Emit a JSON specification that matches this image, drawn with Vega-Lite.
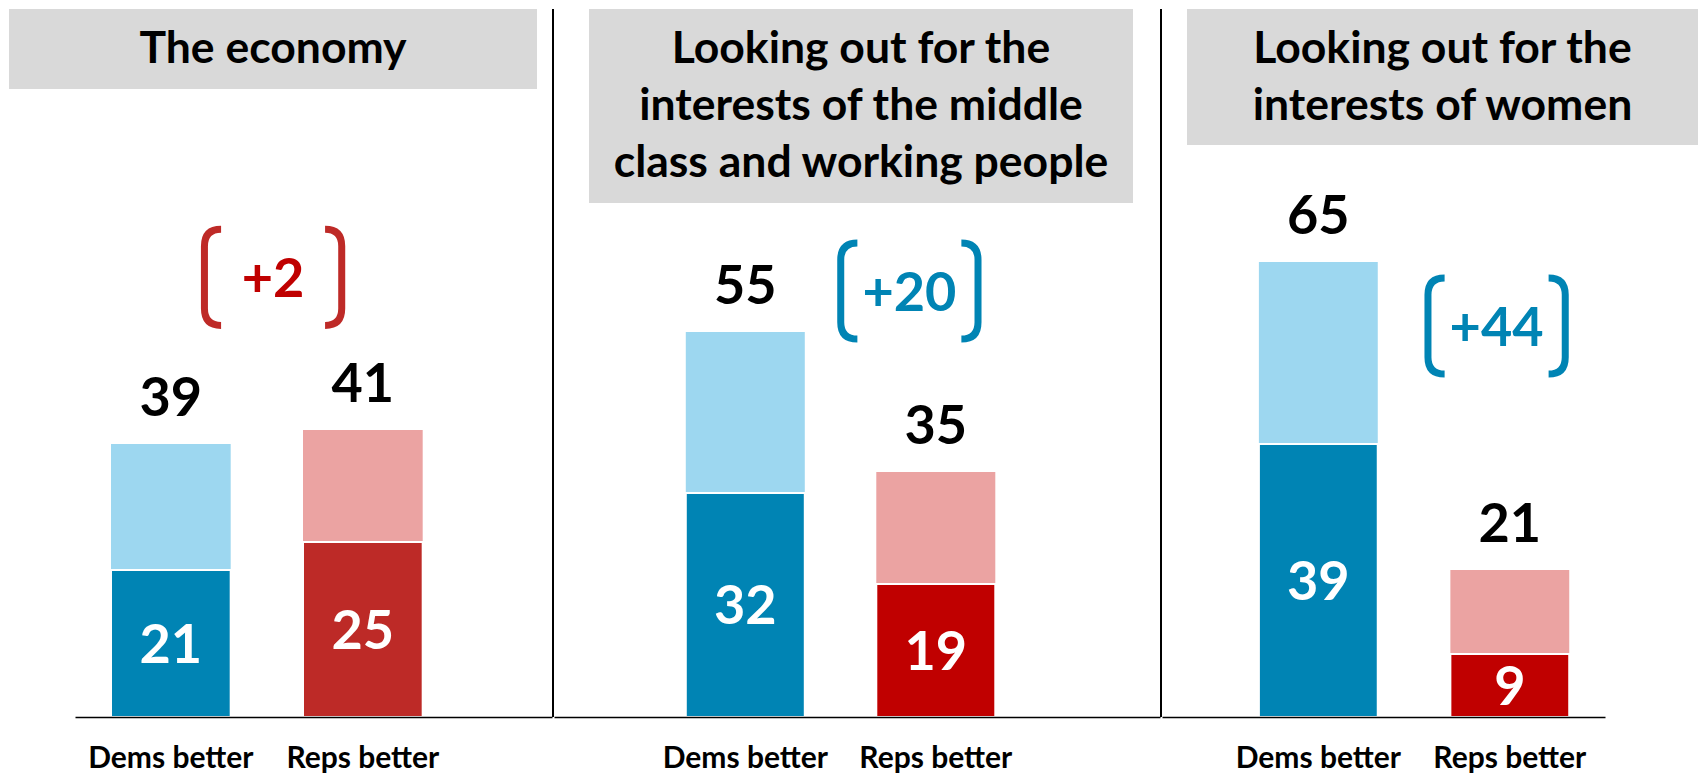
{
  "$schema": "https://vega.github.io/schema/vega-lite/v6.json",
  "background": "white",
  "padding": {"left": 9, "top": 8, "right": 0, "bottom": 0},
  "config": {"view": {"stroke": null}, "font": "Lato"},
  "datasets": {
    "bars": [
      {"topic": "economy", "party": "Dems better", "total": 39, "strong": 21},
      {"topic": "economy", "party": "Reps better", "total": 41, "strong": 25},
      {"topic": "middle", "party": "Dems better", "total": 55, "strong": 32},
      {"topic": "middle", "party": "Reps better", "total": 35, "strong": 19},
      {"topic": "women", "party": "Dems better", "total": 65, "strong": 39},
      {"topic": "women", "party": "Reps better", "total": 21, "strong": 9}
    ],
    "titles": [
      {"topic": "economy", "title": "The economy"},
      {"topic": "middle", "title": "Looking out for the\ninterests of the middle\nclass and working people"},
      {"topic": "women", "title": "Looking out for the\ninterests of women"}
    ],
    "margins": [
      {"topic": "economy", "label": "+2", "leader": "Reps"},
      {"topic": "middle", "label": "+20", "leader": "Dems"},
      {"topic": "women", "label": "+44", "leader": "Dems"}
    ]
  },
  "spacing": 0,
  "resolve": {"scale": {"color": "independent", "fill": "independent"}},
  "hconcat": [
    {
      "spacing": 12,
      "vconcat": [
        {
          "width": 528, "height": 80,
          "view": {"fill": "#D9D9D9", "stroke": null},
          "data": {"name": "titles"},
          "transform": [{"filter": "datum.topic === 'economy'"}],
          "mark": {"type": "text", "font": "Lato", "fontWeight": "bold", "fontSize": 44.5, "lineHeight": 57, "lineBreak": "\n", "baseline": "middle", "align": "center", "dy": 0.6, "color": "black"},
          "encoding": {"text": {"field": "title", "type": "nominal"}}
        },
        {
          "spacing": 0,
          "hconcat": [
            {
              "width": 66, "height": 1,
              "data": {"values": [{"gap": "indent"}]},
              "mark": {"type": "rule", "strokeOpacity": 0, "strokeWidth": 1},
              "encoding": {"y": {"datum": 0, "type": "quantitative", "scale": {"domain": [0, 1]}, "axis": null}}
            },
            {
              "width": 477, "height": 616,
              "data": {"name": "bars"},
              "transform": [{"filter": "datum.topic === 'economy'"}],
              "resolve": {"scale": {"y": "independent"}},
              "layer": [
                {
                  "layer": [
                    {
                      "mark": {"type": "bar"},
                      "encoding": {
                        "x": {"field": "party", "type": "nominal", "scale": {"domain": ["Dems better", "Reps better"], "paddingInner": 0.3766, "paddingOuter": 0.4305, "align": 0.2178},
                          "axis": {"title": null, "domainColor": "black", "domainWidth": 1.5, "ticks": false, "tickSize": 0, "labelAngle": 0, "labelFont": "Lato", "labelFontWeight": "bold", "labelFontSize": 30, "labelColor": "black", "labelPadding": 26, "grid": false, "zindex": 1}},
                        "y": {"field": "total", "type": "quantitative", "scale": {"domain": [0, 88], "nice": false, "zero": true}, "axis": null},
                        "color": {"field": "party", "type": "nominal", "scale": {"domain": ["Dems better", "Reps better"], "range": ["#9DD7F0", "#EBA3A2"]}, "legend": null}
                      }
                    },
                    {
                      "mark": {"type": "bar", "stroke": "white", "strokeWidth": 2},
                      "encoding": {
                        "x": {"field": "party", "type": "nominal"},
                        "y": {"field": "strong", "type": "quantitative"},
                        "fill": {"field": "party", "type": "nominal", "scale": {"domain": ["Dems better", "Reps better"], "range": ["#0084B4", "#BD2A27"]}, "legend": null}
                      }
                    },
                    {
                      "mark": {"type": "text", "font": "Lato", "fontWeight": "bold", "fontSize": 54, "baseline": "alphabetic", "dy": -28, "color": "black"},
                      "encoding": {
                        "x": {"field": "party", "type": "nominal"},
                        "y": {"field": "total", "type": "quantitative"},
                        "text": {"field": "total", "type": "quantitative"}
                      }
                    },
                    {
                      "data": {"name": "margins"},
                      "transform": [{"filter": "datum.topic === 'economy'"}],
                      "mark": {"type": "point", "shape": "M -1.0 -0.925 Q -1.32 -0.925 -1.32 -0.6 L -1.32 0.6 Q -1.32 0.925 -1.0 0.925 M 1.0 -0.925 Q 1.32 -0.925 1.32 -0.6 L 1.32 0.6 Q 1.32 0.925 1.0 0.925", "size": 10816, "filled": false, "color": "#BE2A27", "strokeWidth": 7, "strokeCap": "butt", "opacity": 1},
                      "encoding": {
                        "x": {"datum": "Reps better", "type": "nominal", "bandPosition": -0.25},
                        "y": {"datum": 62.8, "type": "quantitative"}
                      }
                    },
                    {
                      "data": {"name": "margins"},
                      "transform": [{"filter": "datum.topic === 'economy'"}],
                      "mark": {"type": "text", "font": "Lato", "fontWeight": "bold", "fontSize": 54, "baseline": "middle", "dy": 4, "color": "#C00000"},
                      "encoding": {
                        "x": {"datum": "Reps better", "type": "nominal", "bandPosition": -0.25},
                        "y": {"datum": 62.8, "type": "quantitative"},
                        "text": {"field": "label", "type": "nominal"}
                      }
                    }
                  ]
                },
                {
                  "mark": {"type": "text", "font": "Lato", "fontWeight": "bold", "fontSize": 54, "baseline": "middle", "dy": 3, "color": "white"},
                  "encoding": {
                    "x": {"field": "party", "type": "nominal"},
                    "y": {"field": "strong", "type": "quantitative", "scale": {"domain": [0, 176], "nice": false}, "axis": null},
                    "text": {"field": "strong", "type": "quantitative"}
                  }
                }
              ]
            }
          ]
        }
      ]
    },
    {
      "width": 1, "height": 708,
      "data": {"values": [{"divider": "panel"}]},
      "mark": {"type": "rule", "color": "black", "strokeWidth": 2},
      "encoding": {"x": {"datum": 0, "type": "quantitative", "scale": {"domain": [0, 1]}, "axis": null}}
    },
    {
      "spacing": 10,
      "vconcat": [
        {
          "spacing": 0,
          "hconcat": [
            {
              "width": 35, "height": 1,
              "data": {"values": [{"gap": "indent"}]},
              "mark": {"type": "rule", "strokeOpacity": 0, "strokeWidth": 1},
              "encoding": {"y": {"datum": 0, "type": "quantitative", "scale": {"domain": [0, 1]}, "axis": null}}
            },
            {
              "width": 544, "height": 194,
              "view": {"fill": "#D9D9D9", "stroke": null},
              "data": {"name": "titles"},
              "transform": [{"filter": "datum.topic === 'middle'"}],
              "mark": {"type": "text", "font": "Lato", "fontWeight": "bold", "fontSize": 44.5, "lineHeight": 57, "lineBreak": "\n", "baseline": "middle", "align": "center", "dy": -56.4, "color": "black"},
              "encoding": {"text": {"field": "title", "type": "nominal"}}
            }
          ]
        },
        {
          "width": 606, "height": 504,
          "data": {"name": "bars"},
          "transform": [{"filter": "datum.topic === 'middle'"}],
          "resolve": {"scale": {"y": "independent"}},
          "layer": [
            {
              "layer": [
                {
                  "mark": {"type": "bar"},
                  "encoding": {
                    "x": {"field": "party", "type": "nominal", "scale": {"domain": ["Dems better", "Reps better"], "paddingInner": 0.3753, "paddingOuter": 0.7782, "align": 0.4445},
                      "axis": {"title": null, "domainColor": "black", "domainWidth": 1.5, "ticks": false, "tickSize": 0, "labelAngle": 0, "labelFont": "Lato", "labelFontWeight": "bold", "labelFontSize": 30, "labelColor": "black", "labelPadding": 26, "grid": false, "zindex": 1}},
                    "y": {"field": "total", "type": "quantitative", "scale": {"domain": [0, 72], "nice": false, "zero": true}, "axis": null},
                    "color": {"field": "party", "type": "nominal", "scale": {"domain": ["Dems better", "Reps better"], "range": ["#9DD7F0", "#EBA3A2"]}, "legend": null}
                  }
                },
                {
                  "mark": {"type": "bar", "stroke": "white", "strokeWidth": 2},
                  "encoding": {
                    "x": {"field": "party", "type": "nominal"},
                    "y": {"field": "strong", "type": "quantitative"},
                    "fill": {"field": "party", "type": "nominal", "scale": {"domain": ["Dems better", "Reps better"], "range": ["#0084B4", "#C00000"]}, "legend": null}
                  }
                },
                {
                  "mark": {"type": "text", "font": "Lato", "fontWeight": "bold", "fontSize": 54, "baseline": "alphabetic", "dy": -28, "color": "black"},
                  "encoding": {
                    "x": {"field": "party", "type": "nominal"},
                    "y": {"field": "total", "type": "quantitative"},
                    "text": {"field": "total", "type": "quantitative"}
                  }
                },
                {
                  "data": {"name": "margins"},
                  "transform": [{"filter": "datum.topic === 'middle'"}],
                  "mark": {"type": "point", "shape": "M -1.0 -0.925 Q -1.32 -0.925 -1.32 -0.6 L -1.32 0.6 Q -1.32 0.925 -1.0 0.925 M 1.0 -0.925 Q 1.32 -0.925 1.32 -0.6 L 1.32 0.6 Q 1.32 0.925 1.0 0.925", "size": 10816, "filled": false, "color": "#0084B4", "strokeWidth": 7, "strokeCap": "butt", "opacity": 1},
                  "encoding": {
                    "x": {"datum": "Reps better", "type": "nominal", "bandPosition": 0.278},
                    "y": {"datum": 60.86, "type": "quantitative"}
                  }
                },
                {
                  "data": {"name": "margins"},
                  "transform": [{"filter": "datum.topic === 'middle'"}],
                  "mark": {"type": "text", "font": "Lato", "fontWeight": "bold", "fontSize": 54, "baseline": "middle", "dy": 4, "color": "#0084B4"},
                  "encoding": {
                    "x": {"datum": "Reps better", "type": "nominal", "bandPosition": 0.278},
                    "y": {"datum": 60.86, "type": "quantitative"},
                    "text": {"field": "label", "type": "nominal"}
                  }
                }
              ]
            },
            {
              "mark": {"type": "text", "font": "Lato", "fontWeight": "bold", "fontSize": 54, "baseline": "middle", "dy": 3, "color": "white"},
              "encoding": {
                "x": {"field": "party", "type": "nominal"},
                "y": {"field": "strong", "type": "quantitative", "scale": {"domain": [0, 144], "nice": false}, "axis": null},
                "text": {"field": "strong", "type": "quantitative"}
              }
            }
          ]
        }
      ]
    },
    {
      "width": 1, "height": 708,
      "data": {"values": [{"divider": "panel"}]},
      "mark": {"type": "rule", "color": "black", "strokeWidth": 2},
      "encoding": {"x": {"datum": 0, "type": "quantitative", "scale": {"domain": [0, 1]}, "axis": null}}
    },
    {
      "spacing": 12,
      "vconcat": [
        {
          "spacing": 0,
          "hconcat": [
            {
              "width": 25, "height": 1,
              "data": {"values": [{"gap": "indent"}]},
              "mark": {"type": "rule", "strokeOpacity": 0, "strokeWidth": 1},
              "encoding": {"y": {"datum": 0, "type": "quantitative", "scale": {"domain": [0, 1]}, "axis": null}}
            },
            {
              "width": 511, "height": 136,
              "view": {"fill": "#D9D9D9", "stroke": null},
              "data": {"name": "titles"},
              "transform": [{"filter": "datum.topic === 'women'"}],
              "mark": {"type": "text", "font": "Lato", "fontWeight": "bold", "fontSize": 44.5, "lineHeight": 57, "lineBreak": "\n", "baseline": "middle", "align": "center", "dy": -27.4, "color": "black"},
              "encoding": {"text": {"field": "title", "type": "nominal"}}
            }
          ]
        },
        {
          "width": 443, "height": 560,
          "data": {"name": "bars"},
          "transform": [{"filter": "datum.topic === 'women'"}],
          "resolve": {"scale": {"y": "independent"}},
          "layer": [
            {
              "layer": [
                {
                  "mark": {"type": "bar"},
                  "encoding": {
                    "x": {"field": "party", "type": "nominal", "scale": {"domain": ["Dems better", "Reps better"], "paddingInner": 0.3792, "paddingOuter": 0.3464, "align": 0.7304},
                      "axis": {"title": null, "domainColor": "black", "domainWidth": 1.5, "ticks": false, "tickSize": 0, "labelAngle": 0, "labelFont": "Lato", "labelFontWeight": "bold", "labelFontSize": 30, "labelColor": "black", "labelPadding": 26, "grid": false, "zindex": 1}},
                    "y": {"field": "total", "type": "quantitative", "scale": {"domain": [0, 80], "nice": false, "zero": true}, "axis": null},
                    "color": {"field": "party", "type": "nominal", "scale": {"domain": ["Dems better", "Reps better"], "range": ["#9DD7F0", "#EBA3A2"]}, "legend": null}
                  }
                },
                {
                  "mark": {"type": "bar", "stroke": "white", "strokeWidth": 2},
                  "encoding": {
                    "x": {"field": "party", "type": "nominal"},
                    "y": {"field": "strong", "type": "quantitative"},
                    "fill": {"field": "party", "type": "nominal", "scale": {"domain": ["Dems better", "Reps better"], "range": ["#0084B4", "#C00000"]}, "legend": null}
                  }
                },
                {
                  "mark": {"type": "text", "font": "Lato", "fontWeight": "bold", "fontSize": 54, "baseline": "alphabetic", "dy": -28, "color": "black"},
                  "encoding": {
                    "x": {"field": "party", "type": "nominal"},
                    "y": {"field": "total", "type": "quantitative"},
                    "text": {"field": "total", "type": "quantitative"}
                  }
                },
                {
                  "data": {"name": "margins"},
                  "transform": [{"filter": "datum.topic === 'women'"}],
                  "mark": {"type": "point", "shape": "M -1.0 -0.925 Q -1.32 -0.925 -1.32 -0.6 L -1.32 0.6 Q -1.32 0.925 -1.0 0.925 M 1.0 -0.925 Q 1.32 -0.925 1.32 -0.6 L 1.32 0.6 Q 1.32 0.925 1.0 0.925", "size": 10816, "filled": false, "color": "#0084B4", "strokeWidth": 7, "strokeCap": "butt", "opacity": 1},
                  "encoding": {
                    "x": {"datum": "Reps better", "type": "nominal", "bandPosition": 0.389},
                    "y": {"datum": 55.86, "type": "quantitative"}
                  }
                },
                {
                  "data": {"name": "margins"},
                  "transform": [{"filter": "datum.topic === 'women'"}],
                  "mark": {"type": "text", "font": "Lato", "fontWeight": "bold", "fontSize": 54, "baseline": "middle", "dy": 4, "color": "#0084B4"},
                  "encoding": {
                    "x": {"datum": "Reps better", "type": "nominal", "bandPosition": 0.389},
                    "y": {"datum": 55.86, "type": "quantitative"},
                    "text": {"field": "label", "type": "nominal"}
                  }
                }
              ]
            },
            {
              "mark": {"type": "text", "font": "Lato", "fontWeight": "bold", "fontSize": 54, "baseline": "middle", "dy": 3, "color": "white"},
              "encoding": {
                "x": {"field": "party", "type": "nominal"},
                "y": {"field": "strong", "type": "quantitative", "scale": {"domain": [0, 160], "nice": false}, "axis": null},
                "text": {"field": "strong", "type": "quantitative"}
              }
            }
          ]
        }
      ]
    }
  ]
}
